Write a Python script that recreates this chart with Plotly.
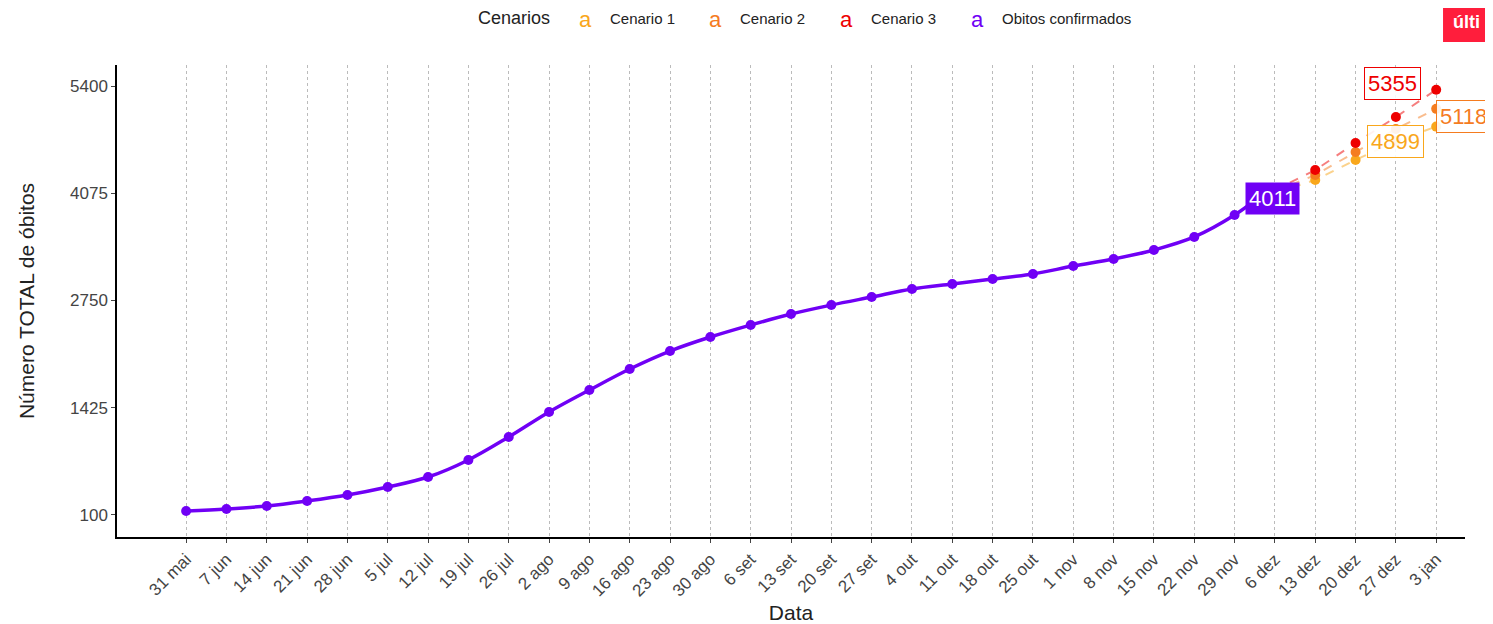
import pandas as pd
import plotly.graph_objects as go

# observed weekly totals
datas = pd.date_range("2020-05-31", "2020-11-29", freq="7D")
obitos = [149, 174, 211, 273, 347, 446, 569, 780, 1064, 1373, 1644, 1904, 2126,
          2299, 2447, 2583, 2694, 2793, 2892, 2954, 3016, 3078, 3176, 3263, 3374,
          3535, 3806]
ultima_data = "2020-12-03"
ultimo_valor = 4011

# projections
datas_cen = ["2020-12-03", "2020-12-13", "2020-12-20", "2020-12-27", "2021-01-03"]
cenario1 = [4011, 4239, 4486, 4720, 4899]
cenario2 = [4011, 4300, 4585, 4870, 5118]
cenario3 = [4011, 4362, 4696, 5017, 5355]

tick_datas = pd.date_range("2020-05-31", "2021-01-03", freq="7D")
meses = {1: "jan", 5: "mai", 6: "jun", 7: "jul", 8: "ago", 9: "set", 10: "out", 11: "nov", 12: "dez"}
tick_text = [f"{d.day} {meses[d.month]}" for d in tick_datas]

c_amarelo = "#F9A71B"
c_laranja = "#F57C1F"
c_vermelho = "#EE0000"
c_roxo = "#7000F5"

fig = go.Figure()

rotulos = {"Cenario 1": dict(xshift=-12, yshift=-15, xanchor="right"),
           "Cenario 2": dict(xshift=0, yshift=-8, xanchor="left"),
           "Cenario 3": dict(xshift=-15, yshift=6, xanchor="right")}

for nome, vals, cor in [("Cenario 1", cenario1, c_amarelo),
                        ("Cenario 2", cenario2, c_laranja),
                        ("Cenario 3", cenario3, c_vermelho)]:
    fig.add_trace(go.Scatter(x=datas_cen, y=vals, mode="lines", name=nome,
                             line=dict(color=cor, width=2, dash="dash"), opacity=0.5))
    fig.add_trace(go.Scatter(x=datas_cen[1:], y=vals[1:], mode="markers",
                             marker=dict(color=cor, size=10)))
    fig.add_annotation(x=datas_cen[-1], y=vals[-1], text=str(vals[-1]),
                       showarrow=False, **rotulos[nome],
                       font=dict(color=cor, size=22), bgcolor="rgba(255,255,255,0.9)",
                       bordercolor=cor, borderwidth=1, borderpad=3)

fig.add_trace(go.Scatter(x=list(datas) + [ultima_data], y=obitos + [ultimo_valor],
                         mode="lines", line=dict(color=c_roxo, width=3.5, shape="spline")))
fig.add_trace(go.Scatter(x=datas, y=obitos, mode="markers",
                         marker=dict(color=c_roxo, size=10)))
fig.add_annotation(x=ultima_data, y=ultimo_valor, text=str(ultimo_valor), showarrow=False,
                   xanchor="left", yshift=0, xshift=-13, font=dict(color="white", size=22),
                   bgcolor=c_roxo, borderpad=3)

# legend imitation
fig.add_annotation(x=0.2663, y=1.0, xref="paper", yref="paper", yanchor="middle", yshift=47,
                   xanchor="left", text="Cenarios", showarrow=False, font=dict(size=18, color="#222"))
leg = [("Cenario 1", c_amarelo, 0.3412, 0.3642), ("Cenario 2", c_laranja, 0.4377, 0.4607),
       ("Cenario 3", c_vermelho, 0.5349, 0.5579), ("Obitos confirmados", c_roxo, 0.6320, 0.6550)]
for txt, cor, xa, xt in leg:
    fig.add_annotation(x=xa, y=1.0, xref="paper", yref="paper", yanchor="middle", yshift=46,
                       xanchor="left", text="a", showarrow=False, font=dict(size=22, color=cor))
    fig.add_annotation(x=xt, y=1.0, xref="paper", yref="paper", yanchor="middle", yshift=47,
                       xanchor="left", text=txt, showarrow=False, font=dict(size=15, color="#222"))

# cropped red badge in the corner
fig.add_shape(type="rect", xref="paper", yref="paper", x0=0.9837, x1=1.04, y0=1.0487, y1=1.14,
              fillcolor="#FF1E3C", line_width=0)
fig.add_annotation(x=0.9837, y=1.0, xref="paper", yref="paper", xanchor="left", yanchor="bottom",
                   yshift=31, xshift=8, text="<b>Nú<br>últi</b>", showarrow=False, align="left",
                   font=dict(color="white", size=18))

fig.update_layout(
    width=1485, height=616, plot_bgcolor="white", paper_bgcolor="white",
    showlegend=False, margin=dict(l=109, r=28, t=57, b=87),
    font=dict(family="Liberation Sans, Arial", color="#333"),
    xaxis=dict(range=["2020-05-19", "2021-01-08"], tickvals=tick_datas, ticktext=tick_text,
               tickangle=-45, tickfont=dict(size=17, color="#444"), showgrid=True,
               gridcolor="#BBBBBB", griddash="dot", gridwidth=1, showline=True,
               linecolor="black", linewidth=1.5, ticks="outside", ticklen=4, automargin=False,
               title=dict(text="Data", font=dict(size=21, color="#222"), standoff=8),
               zeroline=False),
    yaxis=dict(range=[-172, 5660], tickvals=[100, 1425, 2750, 4075, 5400],
               tickfont=dict(size=17, color="#444"), showgrid=False, showline=True,
               linecolor="black", linewidth=1.5, ticks="outside", ticklen=4, automargin=False,
               title=dict(text="Número TOTAL de óbitos", font=dict(size=21, color="#222"), standoff=30),
               zeroline=False),
)

fig.write_html("out.html")
